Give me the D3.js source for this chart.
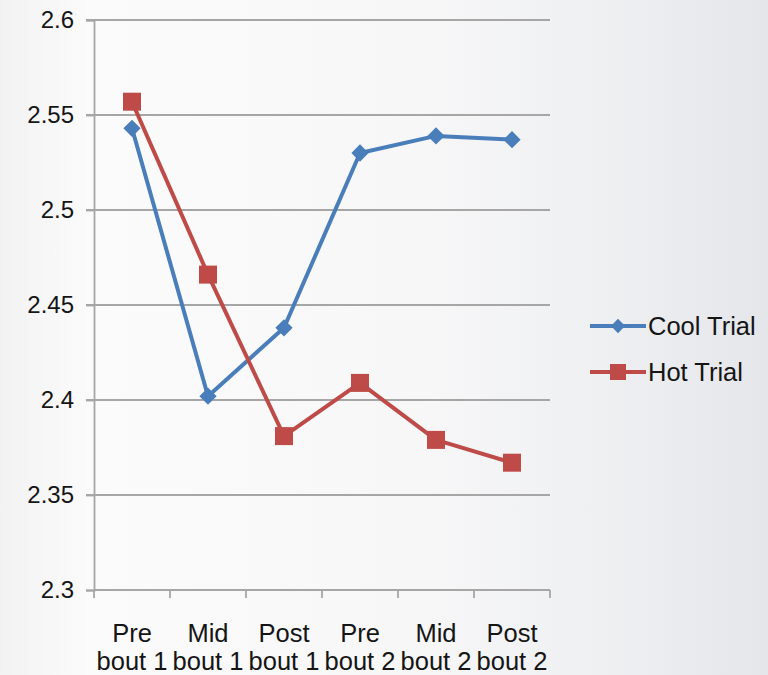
<!DOCTYPE html>
<html>
<head>
<meta charset="utf-8">
<script src="https://cdn.jsdelivr.net/npm/d3@7"></script>
<style>
  html, body { margin: 0; padding: 0; }
  body { width: 768px; height: 675px; overflow: hidden; }
  text { font-family: "Liberation Sans", Arial, sans-serif; fill: #151515; }
</style>
</head>
<body>
<svg id="chart" width="768" height="675"></svg>
<script>
// Categories along the x axis (two-line labels)
const categories = ["Pre bout 1", "Mid bout 1", "Post bout 1", "Pre bout 2", "Mid bout 2", "Post bout 2"];
const categoryLines = [["Pre", "bout 1"], ["Mid", "bout 1"], ["Post", "bout 1"], ["Pre", "bout 2"], ["Mid", "bout 2"], ["Post", "bout 2"]];

// Series values
const coolTrial = [2.543, 2.402, 2.438, 2.530, 2.539, 2.537];
const hotTrial  = [2.557, 2.466, 2.381, 2.409, 2.379, 2.367];

// Y axis ticks
const yTicks = [2.3, 2.35, 2.4, 2.45, 2.5, 2.55, 2.6];

const seriesNames = ["Cool Trial", "Hot Trial"];
const seriesColors = ["#4a7ebb", "#be4b48"];

const svg = d3.select("#chart");

// Soft backdrop shading
const defs = svg.append("defs");
const bg = defs.append("linearGradient").attr("id", "bg").attr("x1", "0").attr("y1", "0").attr("x2", "1").attr("y2", "0");
bg.append("stop").attr("offset", "0").attr("stop-color", "#f2f2f2");
bg.append("stop").attr("offset", "0.12").attr("stop-color", "#fbfbfb");
bg.append("stop").attr("offset", "0.55").attr("stop-color", "#f7f7f8");
bg.append("stop").attr("offset", "0.8").attr("stop-color", "#eeeff1");
bg.append("stop").attr("offset", "1").attr("stop-color", "#e4e6ea");
svg.append("rect").attr("width", 768).attr("height", 675).attr("fill", "url(#bg)");

const margin = { left: 94, right: 218, top: 20, bottom: 85 };
const width = 768 - margin.left - margin.right;
const height = 675 - margin.top - margin.bottom;

const g = svg.append("g").attr("transform", `translate(${margin.left},${margin.top})`);

const x = d3.scaleBand().domain(categories).range([0, width]).padding(0);
const y = d3.scaleLinear().domain([2.3, 2.6]).range([height, 0]);

// Horizontal gridlines
g.append("g")
  .selectAll("line")
  .data(yTicks.filter(t => t > 2.3))
  .join("line")
  .attr("x1", -8).attr("x2", width)
  .attr("y1", d => y(d)).attr("y2", d => y(d))
  .attr("stroke", "#a6a6a6").attr("stroke-width", 1.8);

// Y axis
const yAxis = g.append("g")
  .call(d3.axisLeft(y).tickValues(yTicks).tickFormat(d3.format("")).tickSize(8).tickPadding(12));
yAxis.select(".domain").attr("stroke", "#a6a6a6").attr("stroke-width", 1.8);
yAxis.selectAll(".tick line").attr("stroke", "#a6a6a6").attr("stroke-width", 1.8);
yAxis.selectAll("text").attr("font-size", 24).attr("fill", "#151515")
  .style("font-family", "'Liberation Sans', Arial, sans-serif");

// X axis with ticks at category boundaries
const xAxisG = g.append("g").attr("transform", `translate(0,${height})`);
xAxisG.append("line").attr("x1", 0).attr("x2", width).attr("y1", 0).attr("y2", 0)
  .attr("stroke", "#a6a6a6").attr("stroke-width", 1.8);
const boundaries = categories.map(c => x(c)).concat([width]);
xAxisG.selectAll("line.tk").data(boundaries).join("line").attr("class", "tk")
  .attr("x1", d => d).attr("x2", d => d).attr("y1", 0).attr("y2", 8)
  .attr("stroke", "#a6a6a6").attr("stroke-width", 1.8);
const labels = xAxisG.selectAll("text.cat").data(categories).join("text").attr("class", "cat")
  .attr("text-anchor", "middle").attr("font-size", 25.5)
  .attr("transform", d => `translate(${x(d) + x.bandwidth() / 2},0)`);
labels.each(function(d, i) {
  const t = d3.select(this);
  categoryLines[i].forEach((ln, j) => {
    t.append("tspan").attr("x", 0).attr("y", 52 + j * 28).text(ln);
  });
});

// Lines and markers
const line = d3.line().x((d, i) => x(categories[i]) + x.bandwidth() / 2).y(d => y(d));
const allSeries = [coolTrial, hotTrial];

allSeries.forEach((vals, s) => {
  g.append("path").datum(vals).attr("d", line)
    .attr("fill", "none").attr("stroke", seriesColors[s]).attr("stroke-width", 4)
    .attr("stroke-linejoin", "round");
});

const diamond = d3.symbol().type(d3.symbolDiamond2).size(190);
const square = d3.symbol().type(d3.symbolSquare).size(324);

g.append("g").selectAll("path").data(coolTrial).join("path")
  .attr("d", diamond)
  .attr("transform", (d, i) => `translate(${x(categories[i]) + x.bandwidth() / 2},${y(d)})`)
  .attr("fill", seriesColors[0]);

g.append("g").selectAll("path").data(hotTrial).join("path")
  .attr("d", square)
  .attr("transform", (d, i) => `translate(${x(categories[i]) + x.bandwidth() / 2},${y(d)})`)
  .attr("fill", seriesColors[1]);

// Legend
const legend = svg.append("g").attr("transform", "translate(590,326)");
seriesNames.forEach((name, s) => {
  const row = legend.append("g").attr("transform", `translate(0,${s * 46})`);
  row.append("line").attr("x1", 0).attr("x2", 56).attr("y1", 0).attr("y2", 0)
    .attr("stroke", seriesColors[s]).attr("stroke-width", 4);
  row.append("path")
    .attr("d", s === 0 ? d3.symbol().type(d3.symbolDiamond2).size(130)() : d3.symbol().type(d3.symbolSquare).size(256)())
    .attr("transform", "translate(28,0)")
    .attr("fill", seriesColors[s]);
  row.append("text").attr("x", 58).attr("y", 9).attr("font-size", 25.5).text(name);
});
</script>
</body>
</html>
